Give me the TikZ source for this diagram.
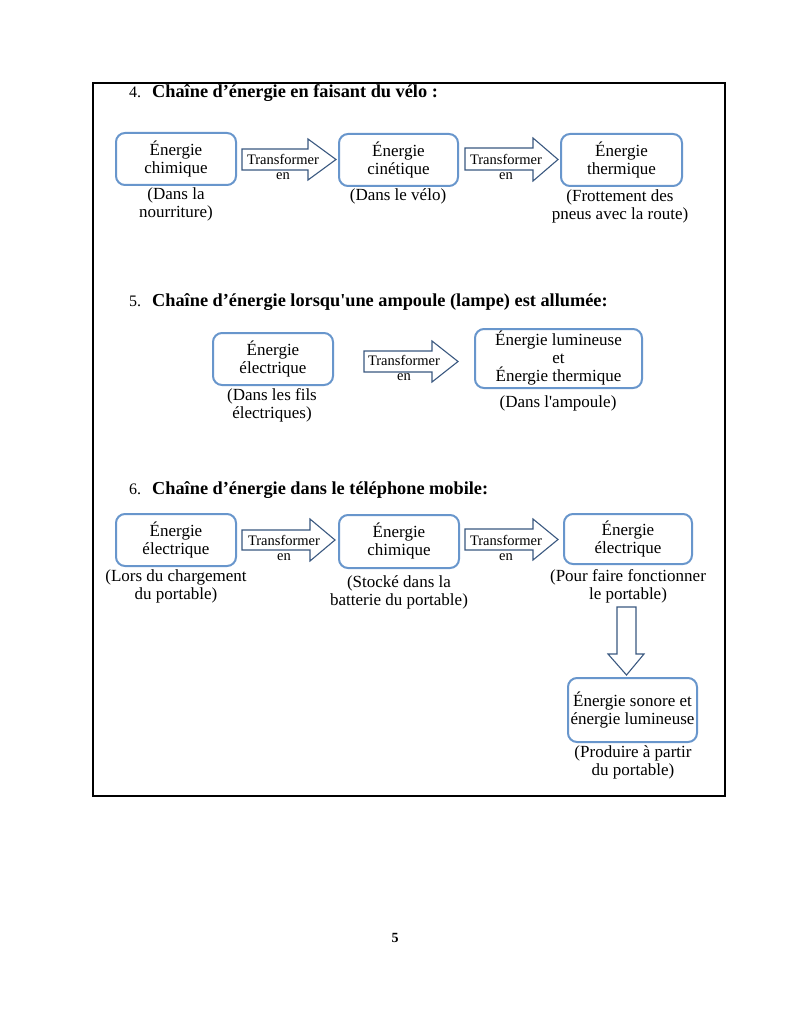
\documentclass[tikz,border=0pt]{standalone}
\usepackage{fontspec}
\setmainfont{Liberation Serif}
\definecolor{boxblue}{RGB}{104,150,204}
\definecolor{arrowblue}{RGB}{58,88,128}
\font\qfr="Liberation Serif" at 17pt
\font\qfb="Liberation Serif/B" at 18.3pt
\newcommand{\sqr}{{\qfr\char"0027}}
\newcommand{\sqb}{{\qfb\char"0027}}
\begin{document}
\begin{tikzpicture}[x=1pt,y=-1pt,
  ebox/.style={draw=boxblue,line width=2pt,rounded corners=9pt,align=center,inner sep=0pt,
    font=\fontsize{17}{18}\selectfont},
  captxt/.style={align=center,inner sep=0pt,font=\fontsize{17}{18}\selectfont},
  barrow/.style={draw=arrowblue,line width=1.1pt,fill=white,line join=miter},
  atext/.style={inner sep=0pt,font=\fontsize{14.5}{15}\selectfont},
  ttl/.style={anchor=base west,inner sep=0pt,font=\fontsize{18.3}{20}\selectfont\bfseries},
  num/.style={anchor=base west,inner sep=0pt,font=\fontsize{16}{18}\selectfont}]
\useasboundingbox (0,0) rectangle (791,1024);
\fill[white] (0,0) rectangle (791,1024);
\draw[line width=1.4pt] (93,83) rectangle (725,796);

% Section 4
\node[num] (n4) at (129,98) {4.};
\node[ttl] (t4) at (152,98) {Chaîne d’énergie en faisant du vélo :};
\node[ebox,minimum width=120,minimum height=52] (b11) at (176,159) {Énergie\\chimique};
\node[ebox,minimum width=119,minimum height=52] (b12) at (398.5,160) {Énergie\\cinétique};
\node[ebox,minimum width=121,minimum height=52] (b13) at (621.5,160) {Énergie\\thermique};
\node[captxt] (c11) at (176,204) {(Dans la\\nourriture)};
\node[captxt] (c12) at (398,196) {(Dans le vélo)};
\node[captxt] (c13) at (620,206) {(Frottement des\\pneus avec la route)};
\draw[barrow] (242,149) -- (308,149) -- (308,139) -- (336,159.5) -- (308,180) -- (308,170) -- (242,170) -- cycle;
\node[atext] (a11) at (283,159) {Transformer};
\node[atext] (a11e) at (283,176) {en};
\draw[barrow] (465,148) -- (533,148) -- (533,138) -- (558,159.5) -- (533,181) -- (533,170) -- (465,170) -- cycle;
\node[atext] (a12) at (506,159) {Transformer};
\node[atext] (a12e) at (506,176) {en};

% Section 5
\node[num] (n5) at (129,306) {5.};
\node[ttl] (t5) at (152,306) {Chaîne d’énergie lorsqu\sqb une ampoule (lampe) est allumée:};
\node[ebox,minimum width=120,minimum height=52] (b21) at (273,359) {Énergie\\électrique};
\node[ebox,minimum width=167,minimum height=59] (b22) at (558.5,358.5) {Énergie lumineuse\\et\\Énergie thermique};
\node[captxt] (c21) at (272,405) {(Dans les fils\\électriques)};
\node[captxt] (c22) at (558,403) {(Dans l\sqr ampoule)};
\draw[barrow] (364,351) -- (432,351) -- (432,341) -- (458,361.5) -- (432,382) -- (432,372) -- (364,372) -- cycle;
\node[atext] (a21) at (404,360) {Transformer};
\node[atext] (a21e) at (404,377) {en};

% Section 6
\node[num] (n6) at (129,494) {6.};
\node[ttl] (t6) at (152,494) {Chaîne d’énergie dans le téléphone mobile:};
\node[ebox,minimum width=120,minimum height=52] (b31) at (176,540) {Énergie\\électrique};
\node[ebox,minimum width=120,minimum height=53] (b32) at (399,541.5) {Énergie\\chimique};
\node[ebox,minimum width=128,minimum height=50] (b33) at (628,539) {Énergie\\électrique};
\node[ebox,minimum width=129,minimum height=64] (b34) at (632.5,710) {Énergie sonore et\\énergie lumineuse};
\node[captxt] (c31) at (176,586) {(Lors du chargement\\du portable)};
\node[captxt] (c32) at (399,592) {(Stocké dans la\\batterie du portable)};
\node[captxt] (c33) at (628,586) {(Pour faire fonctionner\\le portable)};
\node[captxt] (c34) at (633,762) {(Produire à partir\\du portable)};
\draw[barrow] (242,530) -- (310,530) -- (310,519) -- (335,540) -- (310,561) -- (310,550) -- (242,550) -- cycle;
\node[atext] (a31) at (284,540) {Transformer};
\node[atext] (a31e) at (284,557) {en};
\draw[barrow] (465,529) -- (533,529) -- (533,519) -- (558,539.5) -- (533,560) -- (533,550) -- (465,550) -- cycle;
\node[atext] (a32) at (506,540) {Transformer};
\node[atext] (a32e) at (506,557) {en};
\draw[barrow] (617,607) -- (636,607) -- (636,654) -- (644,654) -- (626.5,675) -- (608,654) -- (617,654) -- cycle;

% page number
\node[inner sep=0pt,font=\fontsize{14}{16}\selectfont\bfseries] (pg) at (395,938) {5};
\end{tikzpicture}
\end{document}
